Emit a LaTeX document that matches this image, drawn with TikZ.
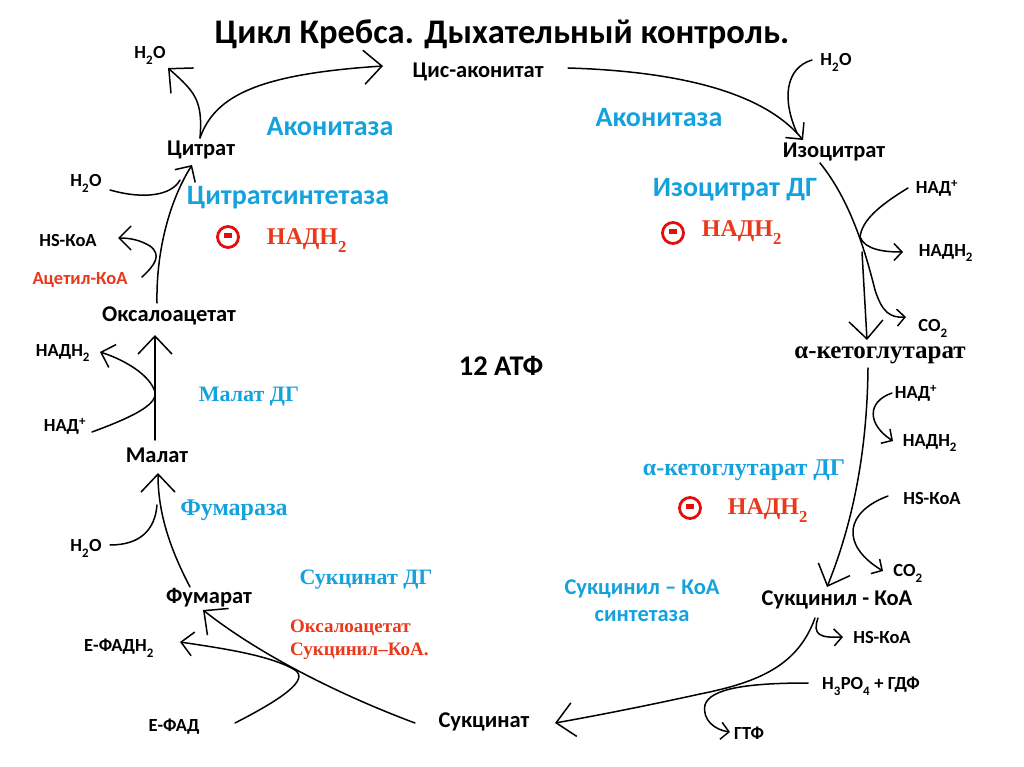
\documentclass[tikz,border=0pt]{standalone}
\usepackage{fontspec}
\setmainfont{Carlito}
\newfontfamily\tnr{Liberation Serif}
\usetikzlibrary{arrows.meta}
\definecolor{cblue}{RGB}{20,162,222}
\definecolor{cred}{RGB}{234,56,26}
\definecolor{ccirc}{RGB}{228,12,12}
\tikzset{
 cmp/.style={font=\fontsize{22.5}{26}\selectfont\bfseries, inner sep=0pt},
 side/.style={font=\fontsize{18.5}{22}\selectfont\bfseries, inner sep=0pt},
 enzs/.style={font=\fontsize{28}{32}\selectfont\bfseries, text=cblue, inner sep=0pt},
 enzr/.style={font=\tnr\fontsize{22}{26}\selectfont\bfseries, text=cblue, inner sep=0pt},
 inhtext/.style={font=\tnr\fontsize{24}{28}\selectfont\bfseries, text=cred, inner sep=0pt},
 inhcirc/.style={circle, draw=ccirc, line width=2.8pt, minimum size=21pt, inner sep=0pt},
 link/.style={line width=1.5pt, line cap=round},
 tipbig/.style={link, -{Straight Barb[length=18pt,width=34pt]}},
 tipmid/.style={link, -{Straight Barb[length=12pt,width=24pt]}},
 tipsmall/.style={link, -{Straight Barb[length=8pt,width=17pt]}},
}
\newcommand{\sbt}[1]{\raisebox{-0.18em}{\textsubscript{#1}}}
\newcommand{\spt}[1]{\textsuperscript{#1}}
\begin{document}
\begin{tikzpicture}[x=1pt,y=-1pt]
\useasboundingbox (0,0) rectangle (1024,767);
\fill[white] (0,0) rectangle (1024,767);

% title
\node[font=\fontsize{34.5}{38}\selectfont\bfseries, inner sep=0pt] (title) at (502,34) {Цикл Кребса. Дыхательный контроль.};

% compounds
\node[cmp] (cis) at (478,72) {Цис-аконитат};
\node[cmp] (iso) at (834,152) {Изоцитрат};
\node[cmp, font=\tnr\fontsize{25}{29}\selectfont\bfseries] (akg) at (880,355) {α-кетоглутарат};
\node[cmp] (scoa) at (837,600) {Сукцинил - КоА};
\node[cmp] (succ) at (484,722) {Сукцинат};
\node[cmp] (fum) at (209,598) {Фумарат};
\node[cmp] (mal) at (157,455) {Малат};
\node[cmp] (oaa) at (169,316) {Оксалоацетат};
\node[cmp] (cit) at (201,150) {Цитрат};

% side labels
\node[side] (h2oa) at (150,55) {H\sbt{2}O};
\node[side] (h2ob) at (836,62) {H\sbt{2}O};
\node[side] (nada) at (937,188) {НАД\spt{+}};
\node[side] (nadha) at (946,253) {НАДН\sbt{2}};
\node[side] (co2a) at (933,328) {CO\sbt{2}};
\node[side] (nadb) at (916,393) {НАД\spt{+}};
\node[side] (nadhb) at (930,443) {НАДН\sbt{2}};
\node[side] (hsa) at (932,498) {HS-КоА};
\node[side] (co2b) at (908,573) {CO\sbt{2}};
\node[side] (hsb) at (882,637) {HS-КоА};
\node[side] (hpo) at (871,686) {H\sbt{3}PO\sbt{4} + ГДФ};
\node[side] (gtf) at (749,733) {ГТФ};
\node[side] (efad) at (174,727) {Е-ФАД};
\node[side] (efadh) at (119,648) {Е-ФАДН\sbt{2}};
\node[side] (h2oc) at (86,548) {H\sbt{2}O};
\node[side] (nadc) at (65,426) {НАД\spt{+}};
\node[side] (nadhc) at (63,353) {НАДН\sbt{2}};
\node[side, text=cred] (acoa) at (80,280) {Ацетил-КоА};
\node[side] (hsc) at (68,241) {HS-КоА};
\node[side] (h2od) at (86,183) {H\sbt{2}O};

% enzymes
\node[enzs] (acon1) at (330,127) {Аконитаза};
\node[enzs] (acon2) at (659,118) {Аконитаза};
\node[enzs] (cs) at (288,198) {Цитратсинтетаза};
\node[enzs] (idh) at (735,190) {Изоцитрат ДГ};
\node[enzr] (mdh) at (249,397) {Малат ДГ};
\node[enzr, font=\tnr\fontsize{24}{28}\selectfont\bfseries] (fumase) at (234,510) {Фумараза};
\node[enzr] (sdh) at (366,580) {Сукцинат ДГ};
\node[enzr, font=\tnr\fontsize{24}{28}\selectfont\bfseries] (akgdh) at (744,470) {α-кетоглутарат ДГ};
\node[enzs, font=\fontsize{22.5}{27}\selectfont\bfseries, align=center] (scs) at (642,601) {Сукцинил – КоА\\синтетаза};
\node[font=\fontsize{28.5}{32}\selectfont\bfseries, inner sep=0pt] (atp) at (501,366) {12 АТФ};

% inhibitors
\node[inhcirc] (c1) at (228,237) {};
\fill[ccirc] (224,233) rectangle (232,238);
\node[inhtext] (n1) at (307,241) {НАДН\sbt{2}};
\node[inhcirc] (c2) at (673,233) {};
\fill[ccirc] (669,229) rectangle (677,234);
\node[inhtext] (n2) at (742,233) {НАДН\sbt{2}};
\node[inhcirc] (c3) at (690,508) {};
\fill[ccirc] (686,504) rectangle (694,509);
\node[inhtext] (n3) at (768,511) {НАДН\sbt{2}};
\node[font=\tnr\fontsize{19}{23}\selectfont\bfseries, text=cred, anchor=west, inner sep=0pt] (inhs1) at (290,628) {Оксалоацетат};
\node[font=\tnr\fontsize{19}{23}\selectfont\bfseries, text=cred, anchor=west, inner sep=0pt] (inhs2) at (290,651) {Сукцинил–КоА.};

% junction coordinates
\coordinate (j1) at (200,138);
\coordinate (t1) at (383,66);
\coordinate (t1w) at (168,68);
\coordinate (j2s) at (568,68);
\coordinate (t2) at (803,140);
\coordinate (w2) at (812,60);
\coordinate (w2e) at (797,133);
\coordinate (j3s) at (820,163);
\coordinate (j3a) at (875,290);
\coordinate (t3c) at (906,317);
\coordinate (n3s) at (908,188);
\coordinate (j3n) at (860,237);
\coordinate (t3n) at (903,252);
\coordinate (j3m) at (862,252);
\coordinate (t3) at (867,340);
\coordinate (j4s) at (868,368);
\coordinate (t4) at (827,587);
\coordinate (n4s) at (892,393);
\coordinate (t4n) at (893,441);
\coordinate (h4s) at (888,496);
\coordinate (t4c) at (883,571);
\coordinate (j5s) at (815,618);
\coordinate (j5a) at (700,694);
\coordinate (t5) at (555,723);
\coordinate (h5s) at (818,618);
\coordinate (t5h) at (843,637);
\coordinate (p5s) at (808,683);
\coordinate (p5a) at (705,705);
\coordinate (t5g) at (730,732);
\coordinate (j6s) at (415,723);
\coordinate (t6) at (203,610);
\coordinate (f6s) at (235,723);
\coordinate (f6a) at (295,670);
\coordinate (t6f) at (180,642);
\coordinate (j7s) at (190,587);
\coordinate (t7) at (158,473);
\coordinate (w7s) at (110,545);
\coordinate (w7e) at (157,505);
\coordinate (j8s) at (155,440);
\coordinate (t8) at (155,335);
\coordinate (n8s) at (92,432);
\coordinate (n8a) at (155,392);
\coordinate (t8n) at (100,352);
\coordinate (j9s) at (157,303);
\coordinate (t9) at (192,165);
\coordinate (w9s) at (110,190);
\coordinate (w9e) at (180,180);
\coordinate (a9s) at (142,277);
\coordinate (a9a) at (150,246);
\coordinate (t9h) at (118,238);

% Citrate -> cis-aconitate
\draw[tipbig] (j1) .. controls (215,95) and (260,74) .. (t1);
\draw[tipbig] (j1) .. controls (203,100) and (195,92) .. (t1w);
% cis-aconitate -> isocitrate
\draw[tipmid] (j2s) .. controls (700,72) and (770,100) .. (t2);
\draw[link] (w2) .. controls (785,68) and (782,100) .. (w2e);
% isocitrate -> akg
\draw[link] (j3s) .. controls (850,200) and (865,250) .. (j3a);
\draw[tipsmall] (j3a) .. controls (882,312) and (890,318) .. (t3c);
\draw[link] (n3s) .. controls (880,205) and (862,220) .. (j3n);
\draw[tipsmall] (j3n) .. controls (865,250) and (885,252) .. (t3n);
\draw[tipbig] (j3m) -- (t3);
% akg -> succinyl-CoA
\draw[tipbig] (j4s) .. controls (867,460) and (850,530) .. (t4);
\draw[tipsmall] (n4s) .. controls (866,402) and (868,425) .. (t4n);
\draw[tipsmall] (h4s) .. controls (845,512) and (840,545) .. (t4c);
% succinyl-CoA -> succinate
\draw[link] (j5s) .. controls (798,665) and (760,682) .. (j5a);
\draw[tipbig] (j5a) .. controls (650,705) and (600,715) .. (t5);
\draw[tipsmall] (h5s) .. controls (812,635) and (820,638) .. (t5h);
\draw[link] (p5s) .. controls (750,683) and (710,688) .. (p5a);
\draw[tipsmall] (p5a) .. controls (702,720) and (715,730) .. (t5g);
% succinate -> fumarate
\draw[tipbig] (j6s) .. controls (340,695) and (260,655) .. (t6);
\draw[link] (f6s) .. controls (280,700) and (310,680) .. (f6a);
\draw[tipmid] (f6a) .. controls (270,655) and (220,648) .. (t6f);
% fumarate -> malate
\draw[tipbig] (j7s) .. controls (168,545) and (158,510) .. (t7);
\draw[link] (w7s) .. controls (140,545) and (155,530) .. (w7e);
% malate -> oxaloacetate
\draw[tipbig] (j8s) -- (t8);
\draw[link] (n8s) .. controls (130,418) and (158,405) .. (n8a);
\draw[tipmid] (n8a) .. controls (150,375) and (125,360) .. (t8n);
% oxaloacetate -> citrate
\draw[tipmid] (j9s) .. controls (156,250) and (170,200) .. (t9);
\draw[link] (w9s) .. controls (145,200) and (172,195) .. (w9e);
\draw[link] (a9s) .. controls (155,265) and (162,255) .. (a9a);
\draw[tipmid] (a9a) .. controls (140,240) and (130,238) .. (t9h);
\end{tikzpicture}
\end{document}
